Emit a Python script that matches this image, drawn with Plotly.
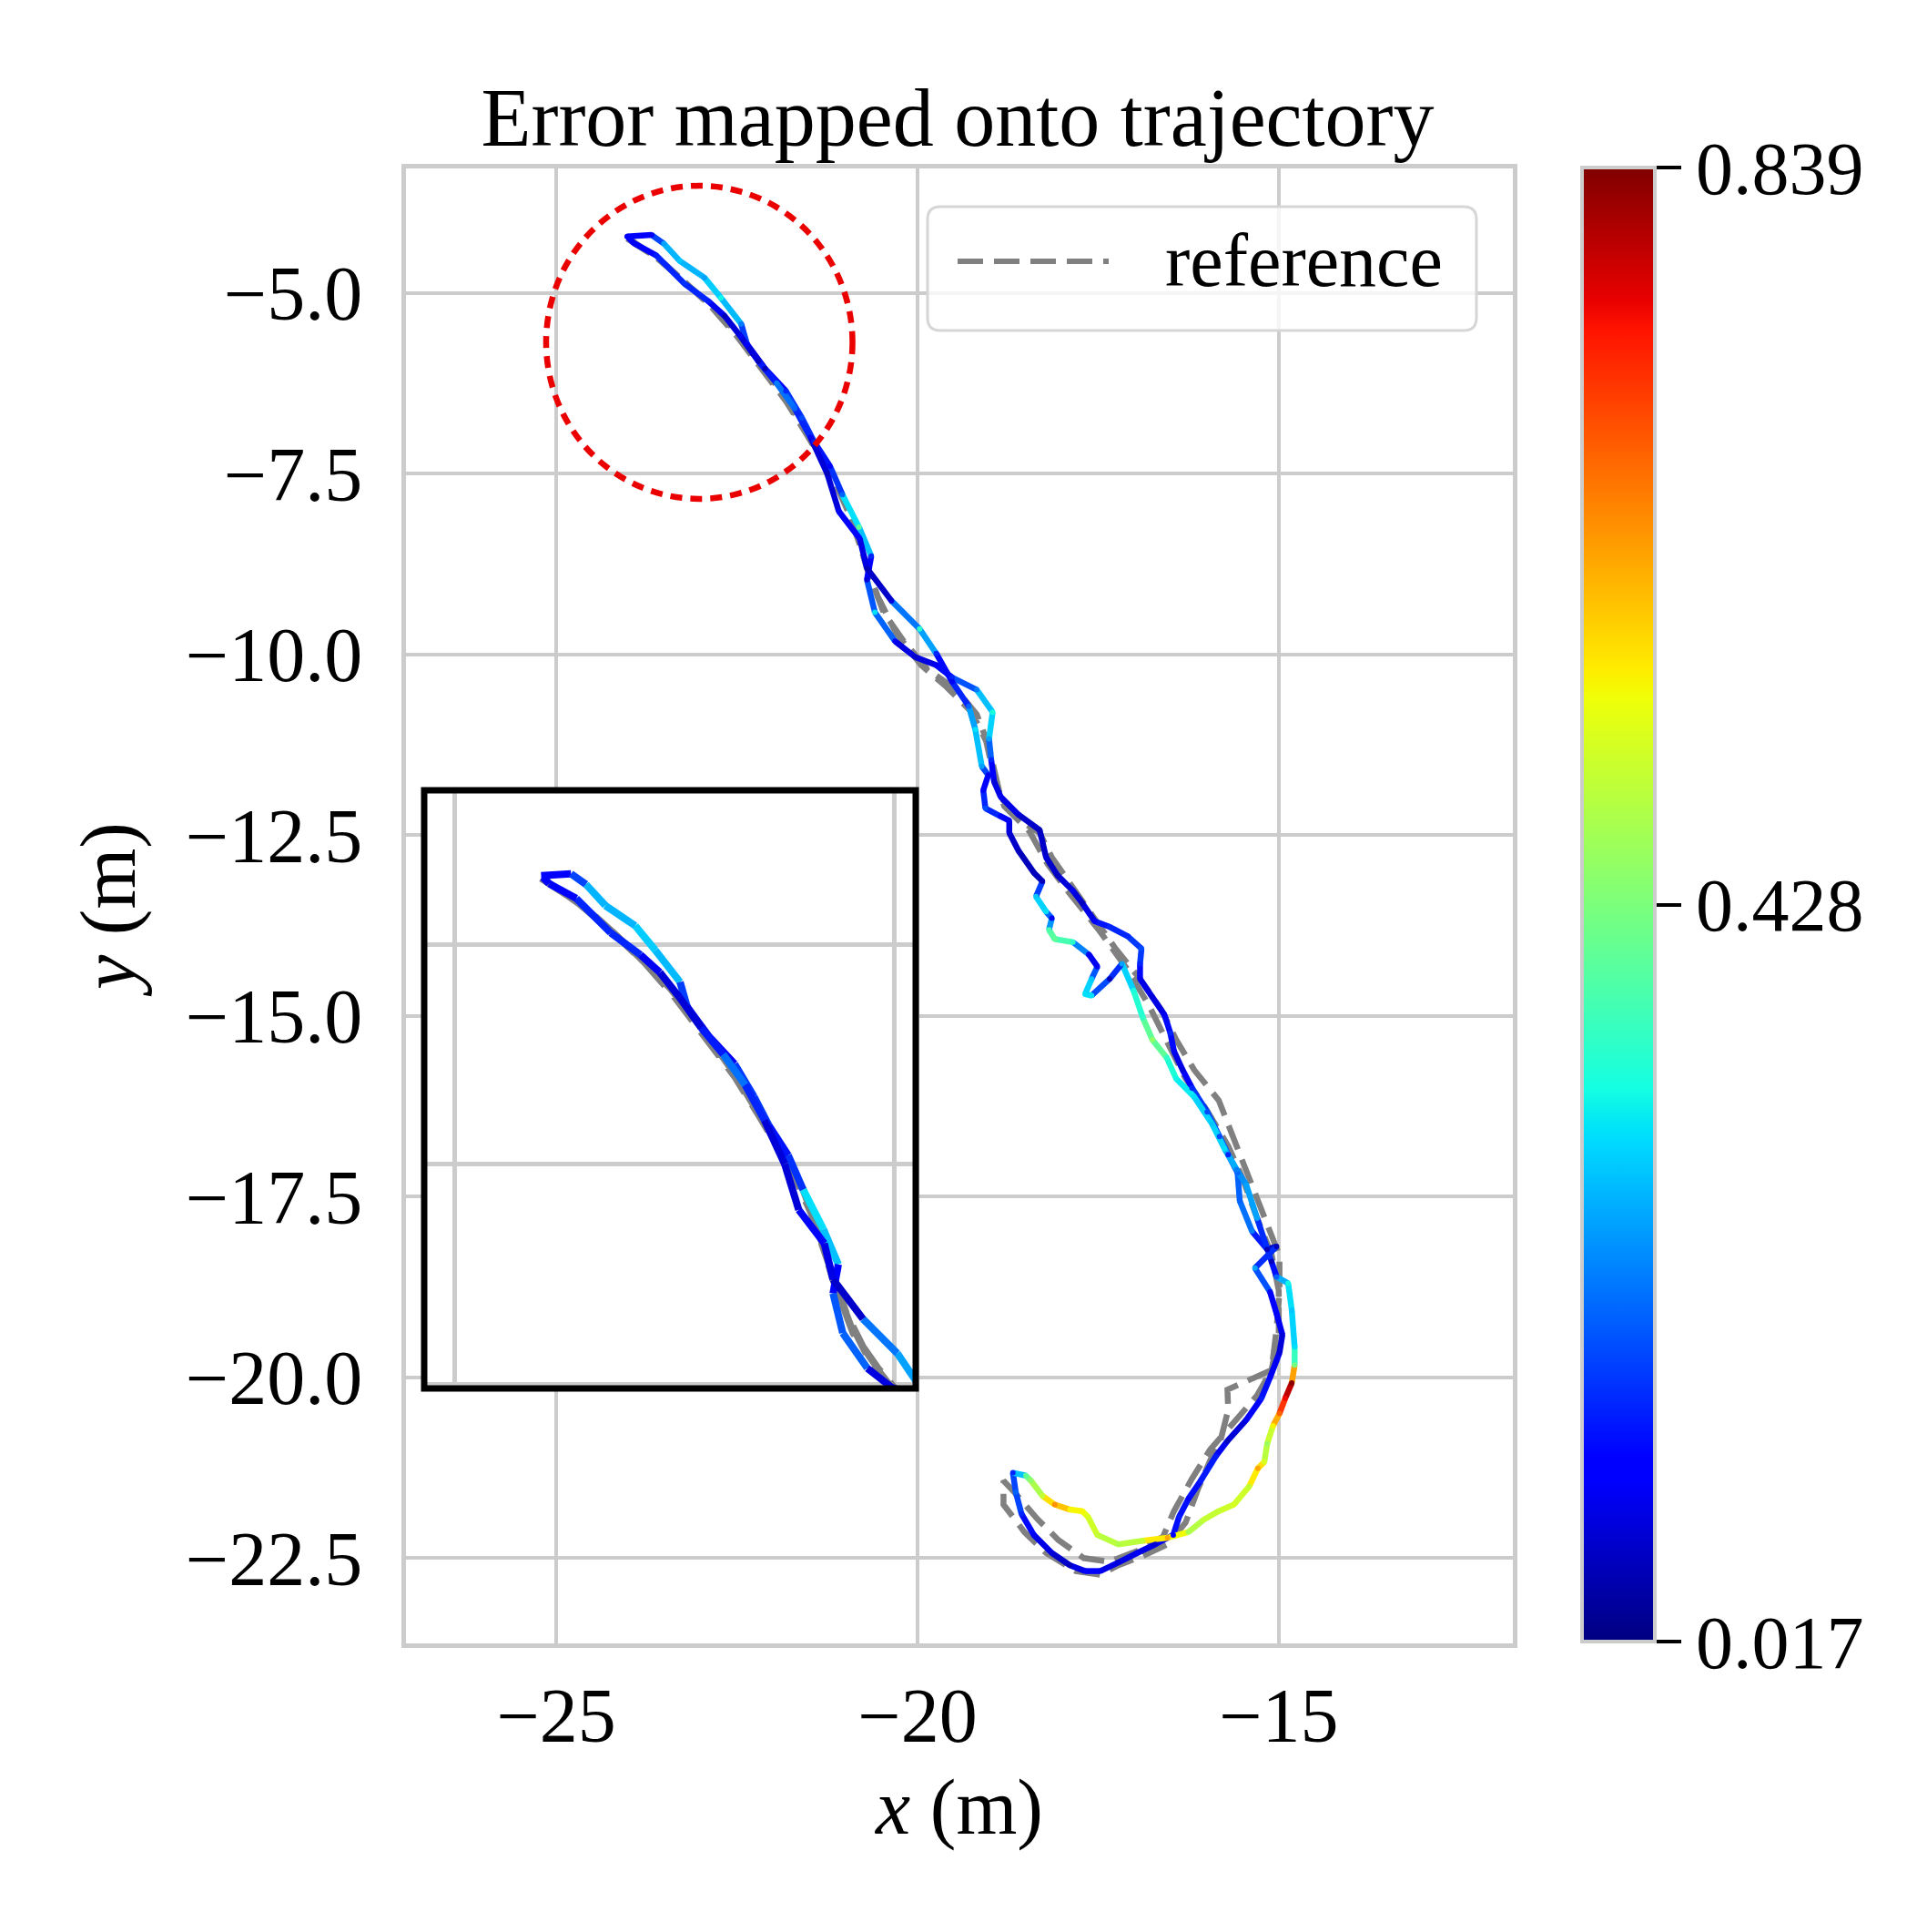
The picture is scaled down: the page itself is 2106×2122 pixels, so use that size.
import plotly.graph_objects as go
from plotly.colors import sample_colorscale

W, H = 2106, 2122

#Estimated trajectory (m) and its APE error (m)
est_x = [-24.02, -23.68, -23.51, -23.29, -22.95, -22.72, -22.44, -22.36, -22.11, -21.82,
         -21.60, -21.43, -21.21, -21.04, -20.81, -20.64, -20.70, -20.59, -20.31, -20.03,
         -19.74, -19.52, -19.18, -18.96, -19.01, -18.98, -18.94, -18.85, -18.60, -18.31,
         -18.22, -18.06, -17.85, -17.72, -17.55, -17.34, -17.09, -16.90, -16.92, -16.92,
         -16.75, -16.58, -16.50, -16.45, -16.33, -16.20, -15.99, -15.82, -15.70, -15.57,
         -15.54, -15.37, -15.16, -15.03, -15.33, -15.12, -15.03, -14.95, -14.99, -15.12,
         -15.24, -15.45, -15.71, -15.87, -16.08, -16.25, -16.38, -16.46, -16.71, -16.96,
         -17.22, -17.47, -17.68, -17.89, -18.14, -18.39, -18.56, -18.64, -18.68, -18.50,
         -18.43, -18.27, -18.10, -17.89, -17.72, -17.64, -17.51, -17.22, -16.88, -16.54,
         -16.25, -16.04, -15.83, -15.62, -15.41, -15.29, -15.20, -15.16, -15.08, -14.99,
         -14.91, -14.82, -14.78, -14.78, -14.82, -14.87, -15.03, -15.10, -15.30, -15.45,
         -15.58, -15.75, -15.92, -16.17, -16.42, -16.55, -16.75, -16.88, -17.01, -17.17,
         -17.34, -17.59, -17.68, -17.59, -17.51, -17.63, -17.85, -18.10, -18.18, -18.14,
         -18.22, -18.36, -18.27, -18.39, -18.60, -18.73, -18.73, -18.85, -19.06, -19.09,
         -19.02, -19.11, -19.20, -19.29, -19.52, -19.74, -19.97, -20.36, -20.70, -20.80,
         -21.09, -21.25, -21.48, -21.70, -21.95, -22.20, -22.45, -22.67, -22.89, -23.23,
         -23.62, -23.93, -24.00]
est_y = [-4.22, -4.20, -4.32, -4.56, -4.79, -5.07, -5.43, -5.71, -6.05, -6.36,
         -6.73, -7.06, -7.40, -7.79, -8.24, -8.64, -8.97, -9.42, -9.82, -10.04,
         -10.15, -10.32, -10.49, -10.80, -11.17, -11.46, -11.76, -11.97, -12.22, -12.43,
         -12.81, -13.06, -13.27, -13.44, -13.69, -13.77, -13.90, -14.07, -14.28, -14.49,
         -14.74, -14.99, -15.24, -15.49, -15.75, -16.00, -16.33, -16.67, -16.92, -17.17,
         -17.56, -17.98, -18.23, -18.19, -18.49, -18.82, -19.12, -19.41, -19.66, -20.00,
         -20.29, -20.59, -20.88, -21.09, -21.43, -21.68, -21.93, -22.18, -22.31, -22.43,
         -22.56, -22.68, -22.68, -22.60, -22.43, -22.18, -21.89, -21.59, -21.32, -21.36,
         -21.43, -21.64, -21.76, -21.83, -21.85, -21.93, -22.18, -22.31, -22.26, -22.22,
         -22.14, -21.97, -21.85, -21.76, -21.51, -21.26, -21.17, -20.92, -20.67, -20.50,
         -20.29, -20.08, -19.83, -19.58, -19.07, -18.70, -18.61, -18.40, -17.80, -17.34,
         -17.13, -16.84, -16.50, -16.12, -15.87, -15.58, -15.33, -15.03, -14.65, -14.28,
         -14.49, -14.72, -14.70, -14.49, -14.32, -14.15, -13.98, -13.94, -13.81, -13.65,
         -13.56, -13.35, -13.14, -13.02, -12.72, -12.47, -12.30, -12.24, -12.13, -11.88,
         -11.67, -11.55, -11.04, -10.72, -10.38, -9.99, -9.65, -9.26, -8.81, -8.40,
         -8.02, -7.50, -7.00, -6.60, -6.25, -5.95, -5.60, -5.32, -5.12, -4.87,
         -4.48, -4.31, -4.24]
est_err = [0.12, 0.10, 0.25, 0.28, 0.25, 0.32, 0.22, 0.12, 0.06, 0.15,
           0.18, 0.15, 0.12, 0.20, 0.40, 0.15, 0.08, 0.30, 0.10, 0.07,
           0.10, 0.15, 0.22, 0.33, 0.25, 0.15, 0.08, 0.10, 0.08, 0.06,
           0.08, 0.06, 0.10, 0.06, 0.12, 0.15, 0.15, 0.18, 0.15, 0.10,
           0.08, 0.10, 0.15, 0.10, 0.08, 0.15, 0.18, 0.18, 0.15, 0.20,
           0.20, 0.22, 0.06, 0.06, 0.25, 0.12, 0.12, 0.08, 0.08, 0.12,
           0.14, 0.10, 0.06, 0.14, 0.14, 0.12, 0.14, 0.12, 0.08, 0.10,
           0.08, 0.10, 0.12, 0.06, 0.08, 0.10, 0.15, 0.20, 0.15, 0.40,
           0.45, 0.50, 0.64, 0.55, 0.55, 0.52, 0.50, 0.48, 0.50, 0.62,
           0.47, 0.50, 0.50, 0.52, 0.50, 0.62, 0.52, 0.46, 0.55, 0.68,
           0.76, 0.83, 0.42, 0.30, 0.28, 0.32, 0.20, 0.06, 0.25, 0.25,
           0.22, 0.30, 0.28, 0.30, 0.32, 0.35, 0.45, 0.35, 0.33, 0.25,
           0.06, 0.30, 0.30, 0.28, 0.10, 0.10, 0.35, 0.40, 0.38, 0.10,
           0.30, 0.28, 0.06, 0.06, 0.06, 0.08, 0.10, 0.12, 0.18, 0.12,
           0.10, 0.25, 0.30, 0.20, 0.10, 0.15, 0.35, 0.08, 0.06, 0.12,
           0.10, 0.06, 0.10, 0.20, 0.22, 0.06, 0.10, 0.06, 0.14, 0.16,
           0.14, 0.10, 0.12]

#Reference trajectory (m)
ref_x = [-24.02, -23.62, -23.23, -22.84, -22.50, -22.16, -21.82, -21.54, -21.26, -21.04,
         -20.87, -20.70, -20.47, -20.19, -19.86, -19.46, -19.18, -19.01, -18.94, -18.85,
         -18.64, -18.31, -18.14, -17.85, -17.59, -17.26, -16.92, -16.63, -16.42, -16.17,
         -15.83, -15.62, -15.45, -15.29, -15.12, -14.99, -14.99, -15.03, -15.10, -15.45,
         -15.71, -15.70, -15.80, -15.95, -16.12, -16.29, -16.54, -16.88, -17.22, -17.47,
         -17.81, -18.22, -18.52, -18.81, -18.81, -18.65, -18.35, -18.05, -17.70, -17.35,
         -16.95, -16.60, -16.45, -16.20, -15.95, -15.60, -15.30, -15.10, -15.00, -15.00,
         -15.10, -15.30, -15.50, -15.70, -16.00, -16.30, -16.55, -16.80, -17.10, -17.50,
         -17.90, -18.20, -18.45, -18.80, -18.95, -19.05, -19.25, -19.60, -19.95, -20.30,
         -20.55, -20.75, -20.95, -21.20, -21.50, -21.80, -22.15, -22.55, -23.00, -23.50,
         -23.95]
ref_y = [-4.25, -4.51, -4.84, -5.21, -5.60, -6.05, -6.50, -6.95, -7.40, -7.79,
         -8.24, -8.81, -9.42, -9.82, -10.21, -10.49, -10.83, -11.28, -11.59, -11.97,
         -12.26, -12.47, -12.81, -13.23, -13.60, -14.07, -14.49, -14.91, -15.33, -15.75,
         -16.17, -16.72, -17.14, -17.56, -17.98, -18.32, -18.82, -19.33, -19.90, -20.06,
         -20.17, -20.45, -20.85, -21.15, -21.55, -22.01, -22.31, -22.47, -22.60, -22.73,
         -22.68, -22.43, -22.14, -21.76, -21.43, -21.60, -21.95, -22.25, -22.50, -22.55,
         -22.40, -22.20, -21.85, -21.40, -21.00, -20.60, -20.25, -19.90, -19.40, -18.80,
         -18.30, -17.80, -17.25, -16.80, -16.30, -15.85, -15.35, -14.85, -14.35, -13.80,
         -13.30, -12.90, -12.45, -12.10, -11.65, -11.20, -10.80, -10.45, -10.15, -9.70,
         -9.20, -8.60, -8.05, -7.50, -7.00, -6.50, -6.00, -5.50, -5.05, -4.60,
         -4.28]

err_min, err_max = 0.017, 0.839
cbar_ticks = [0.017, 0.428, 0.839]

#matplotlib "jet"
jet = [[0.0, 'rgb(0,0,128)'], [0.11, 'rgb(0,0,255)'], [0.125, 'rgb(0,0,255)'],
       [0.34, 'rgb(0,219,255)'], [0.35, 'rgb(0,229,247)'], [0.375, 'rgb(20,255,226)'],
       [0.64, 'rgb(239,255,8)'], [0.65, 'rgb(247,245,0)'], [0.66, 'rgb(255,236,0)'],
       [0.89, 'rgb(255,19,0)'], [0.91, 'rgb(232,0,0)'], [1.0, 'rgb(128,0,0)']]

FONT = "Liberation Serif, serif"
GRID = "#cccccc"

def px(v):
    return v / W

def py(v):
    return 1 - v / H

fig = go.Figure()

#reference (dashed) then coloured segments, once for the main axes and once for the inset
for xa, ya, lw, dash in [("x", "y", 6.5, "28px,12px"), ("x2", "y2", 8, "34px,15px")]:
    fig.add_trace(go.Scatter(x=ref_x, y=ref_y, mode="lines", xaxis=xa, yaxis=ya,
                             line=dict(color="rgb(128,128,128)", width=lw, dash=dash),
                             showlegend=False, hoverinfo="skip"))
    for i in range(len(est_x) - 1):
        t = ((est_err[i] + est_err[i + 1]) / 2 - err_min) / (err_max - err_min)
        col = sample_colorscale(jet, [min(max(t, 0), 1)])[0]
        fig.add_trace(go.Scatter(x=est_x[i:i + 2], y=est_y[i:i + 2], mode="lines",
                                 xaxis=xa, yaxis=ya,
                                 line=dict(color=col, width=lw),
                                 showlegend=False, hoverinfo="skip"))

#colorbar carrier
fig.add_trace(go.Scatter(x=est_x, y=est_y, mode="markers", showlegend=False, hoverinfo="skip",
                         marker=dict(size=0, color=est_err, colorscale=jet, cmin=err_min, cmax=err_max,
                                     showscale=True,
                                     colorbar=dict(x=px(1738), xanchor="left", xpad=0, ypad=0,
                                                   y=py((184 + 1803) / 2), yanchor="middle",
                                                   len=(1803 - 184) / H, thickness=80,
                                                   outlinecolor=GRID, outlinewidth=4,
                                                   tickvals=cbar_ticks, ticktext=["0.017", "0.428", "0.839"],
                                                   ticks="outside", ticklen=27, tickwidth=4, tickcolor="black",
                                                   tickfont=dict(family=FONT, size=82, color="black")))))

shapes = []
#red dotted circle
shapes.append(dict(type="circle", xref="x", yref="y", x0=-25.14, x1=-20.90, y0=-7.85, y1=-3.52,
                   line=dict(color="rgb(235,0,0)", width=6.5, dash="13px,9px"), layer="above"))
#inset frame
shapes.append(dict(type="rect", xref="paper", yref="paper", x0=px(466), x1=px(1006), y0=py(1525), y1=py(868),
                   line=dict(color="black", width=7), layer="above"))
#legend box with rounded corners
x0, x1, y0, y1 = px(1019), px(1622), py(363), py(227)
rx, ry = 14 / W, 14 / H
path = (f"M{x0+rx},{y1} L{x1-rx},{y1} Q{x1},{y1} {x1},{y1-ry} L{x1},{y0+ry} Q{x1},{y0} {x1-rx},{y0} "
        f"L{x0+rx},{y0} Q{x0},{y0} {x0},{y0+ry} L{x0},{y1-ry} Q{x0},{y1} {x0+rx},{y1} Z")
shapes.append(dict(type="path", xref="paper", yref="paper", path=path,
                   fillcolor="rgba(255,255,255,0.8)", line=dict(color="#d6d6d6", width=3), layer="above"))
shapes.append(dict(type="line", xref="paper", yref="paper", x0=px(1052), x1=px(1218), y0=py(287), y1=py(287),
                   line=dict(color="rgb(128,128,128)", width=6, dash="28px,12px"), layer="above"))

fig.update_layout(
    width=W, height=H,
    margin=dict(l=0, r=0, t=0, b=0),
    paper_bgcolor="white", plot_bgcolor="white",
    font=dict(family=FONT, size=80, color="black"),
    title=dict(text="Error mapped onto trajectory", x=px(1052), xanchor="center",
               y=py(128), yanchor="middle", font=dict(family=FONT, size=90, color="black")),
    showlegend=False,
    shapes=shapes,
    annotations=[dict(text="reference", xref="paper", yref="paper", x=px(1278), y=py(287),
                      xanchor="left", yanchor="middle", showarrow=False,
                      font=dict(family=FONT, size=82, color="black"))],
    xaxis=dict(domain=[px(446), px(1662)], range=[-27.08, -11.76], tickvals=[-25, -20, -15],
               showgrid=True, gridcolor=GRID, gridwidth=4, zeroline=False,
               showline=True, mirror=True, linecolor=GRID, linewidth=5, ticks="",
               ticklabelstandoff=2, tickfont=dict(size=84),
               title=dict(text="<i>x</i> (m)", standoff=26, font=dict(size=86))),
    yaxis=dict(domain=[py(1805), py(185)], range=[-23.68, -3.28], dtick=2.5, tick0=0, tickformat=".1f",
               showgrid=True, gridcolor=GRID, gridwidth=4, zeroline=False,
               showline=True, mirror=True, linecolor=GRID, linewidth=5, ticks="",
               ticklabelstandoff=26, tickfont=dict(size=84),
               title=dict(text="<i>y</i> (m)", standoff=28, font=dict(size=86))),
    xaxis2=dict(domain=[px(466), px(1006)], range=[-25.35, -19.76], anchor="y2", dtick=5, tick0=0,
                showgrid=True, gridcolor=GRID, gridwidth=4.5, zeroline=False, showticklabels=False,
                showline=False, ticks=""),
    yaxis2=dict(domain=[py(1525), py(868)], range=[-10.05, -3.25], anchor="x2", dtick=2.5, tick0=0,
                showgrid=True, gridcolor=GRID, gridwidth=4.5, zeroline=False, showticklabels=False,
                showline=False, ticks=""),
)

fig.write_html("out.html", config={"displayModeBar": False},
               post_script="document.body.style.margin='0px';")
